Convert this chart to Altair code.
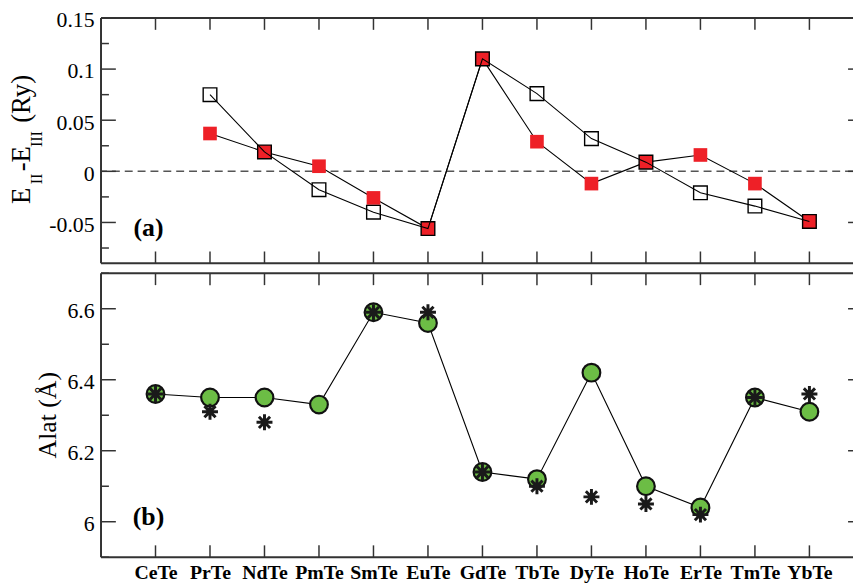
import json
import altair as alt
import pandas as pd

categories = ["CeTe", "PrTe", "NdTe", "PmTe", "SmTe", "EuTe", "GdTe",
              "TbTe", "DyTe", "HoTe", "ErTe", "TmTe", "YbTe"]
# panel (a): E_II - E_III (Ry)
e_open = [None, 0.075, 0.019, -0.018, -0.040, -0.056, 0.110,
          0.076, 0.032, 0.009, -0.021, -0.034, -0.049]
e_red = [None, 0.037, 0.019, 0.005, -0.026, -0.056, 0.110,
         0.029, -0.012, 0.009, 0.016, -0.012, -0.049]
# panel (b): lattice constant (Angstrom)
alat_calc = [6.36, 6.35, 6.35, 6.33, 6.59, 6.56, 6.14,
             6.12, 6.42, 6.10, 6.04, 6.35, 6.31]
alat_exp = [6.36, 6.31, 6.28, None, 6.59, 6.59, 6.14,
            6.10, 6.07, 6.05, 6.02, 6.35, 6.36]

top_major = [-0.05, 0, 0.05, 0.1, 0.15]
top_minor = [-0.075, -0.025, 0.025, 0.075, 0.125]
bot_major = [6.0, 6.2, 6.4, 6.6]
bot_minor = [5.9, 6.1, 6.3, 6.5, 6.7]

FONT = "Liberation Serif"
W = 760
H1 = 248
H2 = 287
FRAME = "#333333"


def series(vals):
    return pd.DataFrame([{"idx": i, "val": v} for i, v in enumerate(vals) if v is not None])


xscale = alt.Scale(domain=[-1, 12.8], nice=False, zero=False)
dummy = pd.DataFrame({"d": [0]})
xt = pd.DataFrame({"idx": list(range(len(categories)))})

label_expr_y = "datum.value < 0 ? '-' + format(-datum.value, '~g') : format(datum.value, '~g')"


def yaxis(values):
    return alt.Axis(values=values, labelExpr=label_expr_y, ticks=False, domain=False, grid=False,
                    labelPadding=7, labelFontSize=22, labelFont=FONT, labelColor="black",
                    labelOffset=2, title="")


xaxis_top = alt.Axis(values=list(range(len(categories))), labels=False, ticks=False,
                     domain=False, grid=False, title="")
xaxis_bot = alt.Axis(values=list(range(len(categories))),
                     labelExpr=json.dumps(categories).replace('"', "'") + "[datum.value]",
                     ticks=False, domain=False, grid=False, title="",
                     labelFont=FONT, labelFontSize=20, labelFontWeight="bold",
                     labelColor="black", labelPadding=6)


def frame_layers(H, X, Y, major, minor):
    rules = []
    rules.append(alt.Chart(dummy).mark_rule(color=FRAME, strokeWidth=2).encode(
        x=alt.value(0), x2=alt.value(W), y=alt.value(0)))
    rules.append(alt.Chart(dummy).mark_rule(color=FRAME, strokeWidth=2).encode(
        x=alt.value(0), x2=alt.value(W), y=alt.value(H)))
    rules.append(alt.Chart(dummy).mark_rule(color=FRAME, strokeWidth=2).encode(
        x=alt.value(0), y=alt.value(0), y2=alt.value(H)))
    rules.append(alt.Chart(xt).mark_rule(color=FRAME, strokeWidth=1.5).encode(
        x=X("idx:Q"), y=alt.value(0), y2=alt.value(12)))
    rules.append(alt.Chart(xt).mark_rule(color=FRAME, strokeWidth=1.5).encode(
        x=X("idx:Q"), y=alt.value(H - 12), y2=alt.value(H)))
    mj = pd.DataFrame({"val": major})
    mn = pd.DataFrame({"val": minor})
    rules.append(alt.Chart(mj).mark_rule(color=FRAME, strokeWidth=1.5).encode(
        y=Y("val:Q"), x=alt.value(0), x2=alt.value(15)))
    rules.append(alt.Chart(mj).mark_rule(color=FRAME, strokeWidth=1.5).encode(
        y=Y("val:Q"), x=alt.value(W - 5), x2=alt.value(W)))
    rules.append(alt.Chart(mn).mark_rule(color=FRAME, strokeWidth=1.5).encode(
        y=Y("val:Q"), x=alt.value(0), x2=alt.value(8)))
    return rules


def txt(s, x, y, size=26, weight="normal", angle=None, align="left", baseline="alphabetic"):
    kw = dict(text=s, font=FONT, fontSize=size, fontWeight=weight, color="black",
              align=align, baseline=baseline)
    if angle is not None:
        kw["angle"] = angle
    return alt.Chart(dummy).mark_text(**kw).encode(x=alt.value(x), y=alt.value(y))


# ---------------- panel (a) ----------------
ys1 = alt.Scale(domain=[-0.09, 0.15], nice=False, zero=False)
ax_y1 = yaxis(top_major)


def X1(f):
    return alt.X(f, scale=xscale, axis=xaxis_top)


def Y1(f):
    return alt.Y(f, scale=ys1, axis=ax_y1)


red_df = series(e_red)
open_df = series(e_open)

zero_line = alt.Chart(dummy).mark_rule(color="#555555", strokeWidth=1.5, strokeDash=[8, 5]).encode(
    y=alt.datum(0, scale=ys1, axis=ax_y1))
red_line = alt.Chart(red_df).mark_line(color="black", strokeWidth=1.1).encode(
    x=X1("idx:Q"), y=Y1("val:Q"))
red_pts = alt.Chart(red_df).mark_point(shape="square", filled=True, color="#EE2027",
                                       size=190, opacity=1, strokeWidth=0).encode(
    x=X1("idx:Q"), y=Y1("val:Q"))
open_line = alt.Chart(open_df).mark_line(color="black", strokeWidth=1.1).encode(
    x=X1("idx:Q"), y=Y1("val:Q"))
open_pts = alt.Chart(open_df).mark_point(shape="square", filled=False, color="black",
                                         size=190, opacity=1, strokeWidth=1.4).encode(
    x=X1("idx:Q"), y=Y1("val:Q"))

title_a = [
    txt("E", -72, 188, size=27, angle=270),
    txt("II", -60, 168, size=16, angle=270),
    txt("-E", -72, 155, size=27, angle=270),
    txt("III", -60, 130.5, size=16, angle=270),
    txt("(Ry)", -72, 106, size=27, angle=270),
]
label_a = txt("(a)", 48, 212, size=26, weight="bold", align="center", baseline="middle")

top = alt.layer(zero_line, red_line, red_pts, open_line, open_pts, label_a, *title_a,
                *frame_layers(H1, X1, Y1, top_major, top_minor)).properties(width=W, height=H1)

# ---------------- panel (b) ----------------
ys2 = alt.Scale(domain=[5.9, 6.7], nice=False, zero=False)
ax_y2 = yaxis(bot_major)


def X2(f):
    return alt.X(f, scale=xscale, axis=xaxis_bot)


def Y2(f):
    return alt.Y(f, scale=ys2, axis=ax_y2)


calc_df = series(alat_calc)
exp_df = series(alat_exp)

calc_line = alt.Chart(calc_df).mark_line(color="black", strokeWidth=1.1).encode(
    x=X2("idx:Q"), y=Y2("val:Q"))
calc_pts = alt.Chart(calc_df).mark_point(shape="circle", filled=True, fill="#6CBD45",
                                         stroke="#111111", strokeWidth=2.2, size=320,
                                         opacity=1).encode(
    x=X2("idx:Q"), y=Y2("val:Q"))
star = "M-1,0L1,0M0,-1L0,1M-0.7,-0.7L0.7,0.7M-0.7,0.7L0.7,-0.7"
exp_pts = alt.Chart(exp_df).mark_point(shape=star, filled=False, stroke="#1a1a1a",
                                       strokeWidth=3, size=260, opacity=1).encode(
    x=X2("idx:Q"), y=Y2("val:Q"))
label_b = txt("(b)", 48, 246, size=26, weight="bold", align="center", baseline="middle")
title_b = txt("Alat (Å)", -45, H2 / 2, size=26, angle=270, align="center")

bottom = alt.layer(calc_line, calc_pts, exp_pts, label_b, title_b,
                   *frame_layers(H2, X2, Y2, bot_major, bot_minor)).properties(width=W, height=H2)

chart = alt.vconcat(top, bottom, spacing=8).configure_view(stroke=None).properties(
    padding={"left": 0, "top": -2, "right": 0, "bottom": 0},
    background="white")

chart.save("out.html", embed_options={"renderer": "svg", "actions": False})
